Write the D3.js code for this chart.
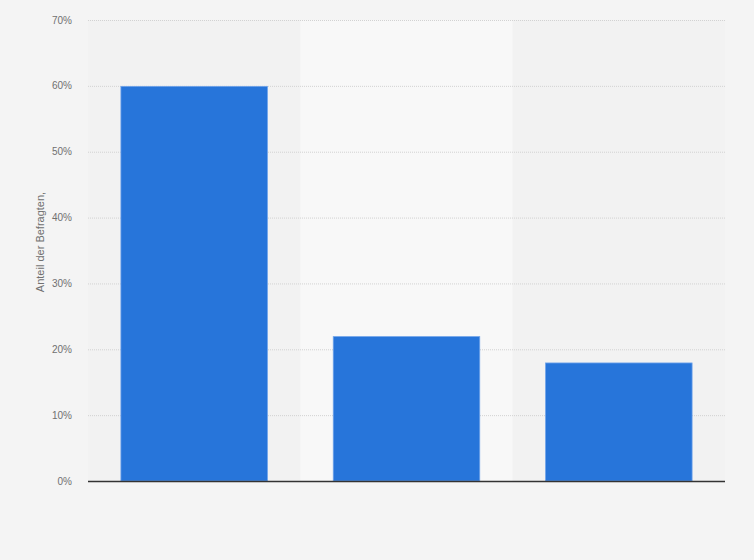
<!DOCTYPE html>
<html><head><meta charset="utf-8">
<script src="https://cdn.jsdelivr.net/npm/d3@7"></script>
<style>html,body{margin:0;padding:0;background:#f4f4f4;}svg{display:block;}</style>
</head><body>
<svg id="c" width="754" height="560"></svg>
<script>
const categories = ["A", "B", "C"];
const values = [60, 22, 18];
const yTicks = [0, 10, 20, 30, 40, 50, 60, 70];
const yTitle = "Anteil der Befragten,";

const W = 754, H = 560;
const m = {left: 88, right: 29, top: 20, bottom: 79};
const FONT = "'Liberation Sans', Arial, sans-serif";
const svg = d3.select("#c");
svg.append("rect").attr("width", W).attr("height", H).attr("fill", "#f4f4f4");

const x = d3.scaleBand().domain(categories).range([m.left, W - m.right]).paddingInner(0.31).paddingOuter(0.155);
const xb = d3.scaleBand().domain(categories).range([m.left, W - m.right]);
const y = d3.scaleLinear().domain([0, 70]).range([H - m.bottom, m.top]);

// column bands
svg.append("g").selectAll("rect").data(categories).join("rect")
  .attr("x", d => xb(d)).attr("width", xb.bandwidth())
  .attr("y", y(70)).attr("height", y(0) - y(70))
  .attr("fill", (d, i) => i % 2 === 1 ? "#f8f8f8" : "#f2f2f2");

// grid
svg.append("g").selectAll("line").data(yTicks.filter(t => t > 0)).join("line")
  .attr("x1", m.left).attr("x2", W - m.right)
  .attr("y1", d => y(d) + 0.5).attr("y2", d => y(d) + 0.5)
  .attr("stroke", "#d2d2d2").attr("stroke-width", 1).attr("stroke-dasharray", "1,1");

// y tick labels
svg.append("g").selectAll("text").data(yTicks).join("text")
  .attr("x", 72).attr("y", d => y(d)).attr("dy", "0.35em")
  .attr("text-anchor", "end").attr("fill", "#707070")
  .style("font-family", FONT).style("font-size", "10px")
  .text(d => d + "%");

// bars
svg.append("g").selectAll("rect").data(values).join("rect")
  .attr("x", (d, i) => x(categories[i])).attr("width", x.bandwidth())
  .attr("y", d => y(d) + 0.5).attr("height", d => y(0) - y(d) - 0.5)
  .attr("fill", "#2775da").attr("stroke", "#6fa3ea").attr("stroke-width", 0.8);

// baseline
svg.append("line").attr("x1", m.left).attr("x2", W - m.right)
  .attr("y1", y(0) + 0.5).attr("y2", y(0) + 0.5)
  .attr("stroke", "#333").attr("stroke-width", 1.3);

// y title
svg.append("text")
  .attr("transform", `translate(44,242) rotate(-90)`)
  .attr("text-anchor", "middle").attr("fill", "#707070")
  .style("font-family", FONT).style("font-size", "11px")
  .text(yTitle);
</script>
</body></html>
